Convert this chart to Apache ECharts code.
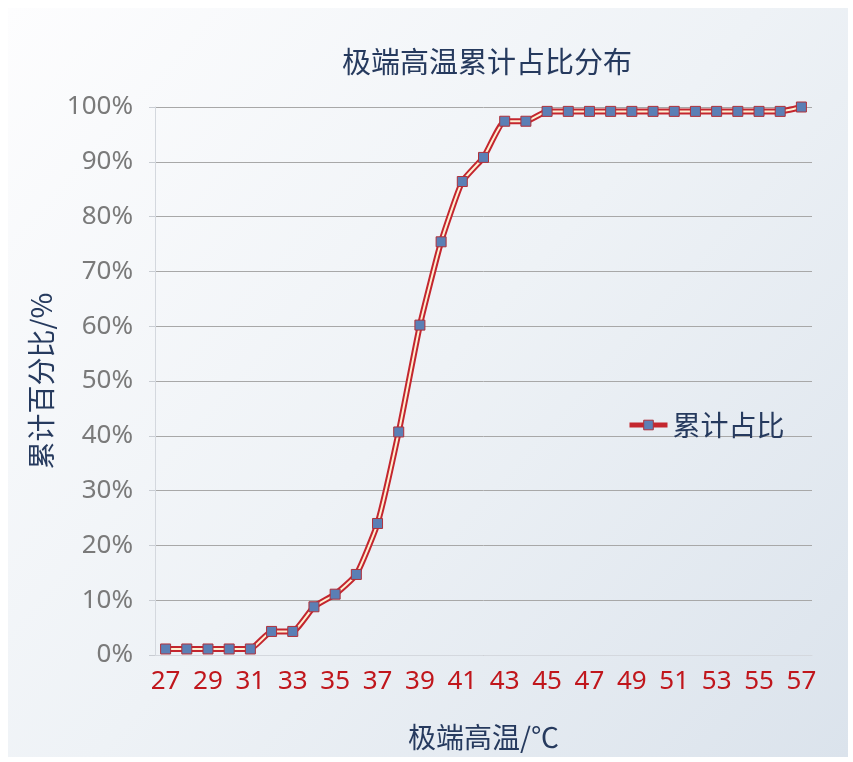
<!DOCTYPE html>
<html>
<head>
<meta charset="utf-8">
<script src="https://cdn.jsdelivr.net/npm/echarts@6/dist/echarts.min.js"></script>
<style>
html,body{margin:0;padding:0;background:#ffffff;}
#chart{width:853px;height:762px;}
</style>
</head>
<body>
<div id="chart"></div>
<script>
const categories = ['27','28','29','30','31','32','33','34','35','36','37','38','39','40','41','42','43','44','45','46','47','48','49','50','51','52','53','54','55','56','57'];
const cumulativeShare = [1.1,1.1,1.1,1.1,1.1,4.3,4.3,8.8,11.1,14.7,24.0,40.7,60.2,75.4,86.4,90.8,97.4,97.4,99.2,99.2,99.2,99.2,99.2,99.2,99.2,99.2,99.2,99.2,99.2,99.2,100];
const yTicks = {min:0, max:100, interval:10};
const titleText = '极端高温累计占比分布';
const seriesName = '累计占比';
const xName = '极端高温/℃';
const yName = '累计百分比/%';

const numFont = '"Noto Sans", sans-serif';
const cjkFont = '"Noto Sans CJK SC", sans-serif';
const darkBlue = '#263a5e';

const chart = echarts.init(document.getElementById('chart'));
chart.setOption({
  backgroundColor: '#ffffff',
  animation: false,
  graphic: [{
    type: 'rect', z: -10, silent: true,
    shape: {x: 8, y: 8, width: 840, height: 749},
    style: {
      fill: new echarts.graphic.LinearGradient(0, 0, 1, 1, [
        {offset: 0, color: '#fdfdfe'},
        {offset: 0.5, color: '#eef2f6'},
        {offset: 1, color: '#dbe3ec'}
      ])
    }
  }],
  title: {
    text: titleText,
    left: 482, top: 42, textAlign: 'center',
    textStyle: {fontFamily: cjkFont, fontSize: 29, fontWeight: 'normal', color: darkBlue}
  },
  legend: {
    data: [seriesName],
    left: 622, top: 406,
    itemWidth: 38, itemHeight: 12,
    itemGap: 6,
    textStyle: {fontFamily: cjkFont, fontSize: 28, color: darkBlue},
    lineStyle: {color: '#c4262e', width: 5},
    itemStyle: {color: '#5b7fb5', borderColor: '#b0303a', borderWidth: 1}
  },
  grid: {left: 155, right: 41, top: 107, bottom: 107, containLabel: false},
  xAxis: {
    type: 'category',
    data: categories,
    boundaryGap: true,
    name: xName,
    nameLocation: 'middle',
    nameGap: 68,
    nameTextStyle: {fontFamily: cjkFont, fontSize: 28, color: darkBlue},
    axisLine: {show: true, lineStyle: {color: '#d4d8de', width: 1}},
    axisTick: {show: false},
    axisLabel: {interval: 1, fontFamily: numFont, fontSize: 26, color: '#c0161c', margin: 14}
  },
  yAxis: {
    type: 'value',
    min: yTicks.min, max: yTicks.max, interval: yTicks.interval,
    name: yName,
    nameLocation: 'middle',
    nameGap: 100,
    nameRotate: 90,
    nameTextStyle: {fontFamily: cjkFont, fontSize: 28, color: darkBlue},
    axisLine: {show: true, lineStyle: {color: '#d4d8de'}},
    axisTick: {show: true, length: 6, lineStyle: {color: '#c8ccd2'}},
    axisLabel: {formatter: '{value}%', fontFamily: numFont, fontSize: 26, color: '#7a7a7a', margin: 22},
    splitLine: {show: true, lineStyle: {color: '#a8a8a8', width: 1}}
  },
  series: [
    {
      name: 'outline',
      type: 'line',
      data: cumulativeShare,
      smooth: 0.15,
      showSymbol: false,
      silent: true,
      lineStyle: {color: '#c4262e', width: 6},
      z: 2
    },
    {
      name: seriesName,
      type: 'line',
      data: cumulativeShare,
      smooth: 0.15,
      symbol: 'rect',
      symbolSize: 10,
      lineStyle: {color: '#fdf0d2', width: 2},
      itemStyle: {color: '#5b7fb5', borderColor: '#b0303a', borderWidth: 1},
      z: 3
    }
  ]
});
</script>
</body>
</html>
